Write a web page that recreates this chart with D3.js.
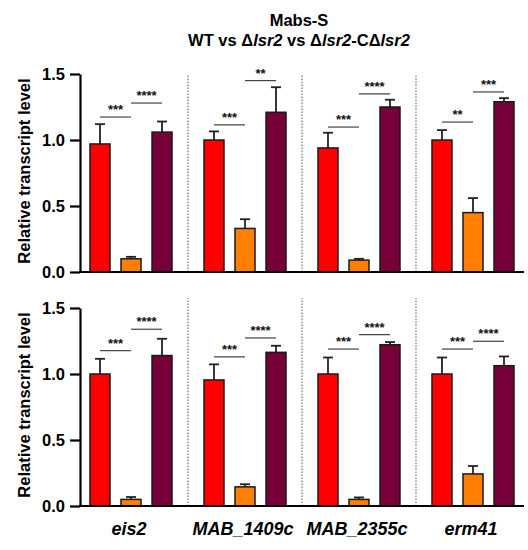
<!DOCTYPE html>
<html><head><meta charset="utf-8">
<script src="https://cdn.jsdelivr.net/npm/d3@7/dist/d3.min.js"></script>
<style>
html,body{margin:0;padding:0;background:#fff;}
text{font-family:"Liberation Sans",Arial,Helvetica,sans-serif;}
</style></head>
<body>
<svg id="chart" width="528" height="550"></svg>
<script>
// ---- data ----
const genes = ["eis2", "MAB_1409c", "MAB_2355c", "erm41"];
const strains = ["WT", "Δlsr2", "Δlsr2-CΔlsr2"];
const yTicks = [0, 0.5, 1.0, 1.5];

// top panel
const topWT = [0.97, 1.00, 0.94, 1.00];
const topWTErr = [0.15, 0.065, 0.115, 0.075];
const topDel = [0.10, 0.33, 0.09, 0.45];
const topDelErr = [0.015, 0.07, 0.01, 0.11];
const topComp = [1.06, 1.21, 1.25, 1.29];
const topCompErr = [0.08, 0.19, 0.055, 0.027];
const topSig1 = ["***", "***", "***", "**"];
const topSig2 = ["****", "**", "****", "***"];
const topSig1Y = [1.174, 1.114, 1.098, 1.136];
const topSig2Y = [1.28, 1.45, 1.35, 1.364];

// bottom panel
const botWT = [1.00, 0.955, 1.00, 1.00];
const botWTErr = [0.115, 0.118, 0.125, 0.125];
const botDel = [0.05, 0.145, 0.05, 0.243];
const botDelErr = [0.018, 0.02, 0.015, 0.06];
const botComp = [1.14, 1.164, 1.222, 1.063];
const botCompErr = [0.127, 0.05, 0.02, 0.07];
const botSig1 = ["***", "***", "***", "***"];
const botSig2 = ["****", "****", "****", "****"];
const botSig1Y = [1.177, 1.129, 1.189, 1.189];
const botSig2Y = [1.339, 1.273, 1.298, 1.248];

const colors = ["#FF0000", "#FF8000", "#770038"];

// ---- layout ----
const svg = d3.select("#chart");
const left = 80, right = 524;
const x = d3.scaleBand().domain(genes).range([left, right]).paddingInner(0.105).paddingOuter(0);
const xs = d3.scaleBand().domain(strains).range([0, x.bandwidth()]).paddingInner(0.355).paddingOuter(0.3226);

const panels = [
  {bottom: 272, top: 74, sepTop: 1.49, vals: [topWT, topDel, topComp], errs: [topWTErr, topDelErr, topCompErr],
   sig1: topSig1, sig2: topSig2, sig1Y: topSig1Y, sig2Y: topSig2Y},
  {bottom: 506, top: 308, sepTop: 1.575, vals: [botWT, botDel, botComp], errs: [botWTErr, botDelErr, botCompErr],
   sig1: botSig1, sig2: botSig2, sig1Y: botSig1Y, sig2Y: botSig2Y}
];

// title
svg.append("text").attr("x", 299).attr("y", 26).attr("text-anchor", "middle")
  .attr("font-size", 16.5).attr("font-weight", "bold").text("Mabs-S");
const t2 = svg.append("text").attr("x", 299).attr("y", 46).attr("text-anchor", "middle")
  .attr("font-size", 16.5).attr("font-weight", "bold");
[["WT vs Δ", false], ["lsr2", true], [" vs Δ", false], ["lsr2", true], ["-CΔ", false], ["lsr2", true]]
  .forEach(([s, it]) => t2.append("tspan").attr("font-style", it ? "italic" : "normal").text(s));

panels.forEach(p => {
  const y = d3.scaleLinear().domain([0, 1.5]).range([p.bottom, p.top]);
  const g = svg.append("g");

  // separators
  g.selectAll("line.sep").data(genes.slice(1)).enter().append("line")
    .attr("x1", d => x(d) - x.step() * x.paddingInner() / 2)
    .attr("x2", d => x(d) - x.step() * x.paddingInner() / 2)
    .attr("y1", y(0)).attr("y2", y(p.sepTop))
    .attr("stroke", "#555").attr("stroke-width", 1).attr("stroke-dasharray", "1.5,1.5");

  // bars + error bars
  strains.forEach((s, si) => {
    const vals = p.vals[si], errs = p.errs[si];
    const cx = gi => x(genes[gi]) + xs(s) + xs.bandwidth() / 2;
    genes.forEach((gname, gi) => {
      const top = y(vals[gi] + errs[gi]);
      g.append("line").attr("x1", cx(gi)).attr("x2", cx(gi))
        .attr("y1", y(vals[gi])).attr("y2", top).attr("stroke", "#222").attr("stroke-width", 1.8);
      g.append("line").attr("x1", cx(gi) - 5).attr("x2", cx(gi) + 5)
        .attr("y1", top).attr("y2", top).attr("stroke", "#222").attr("stroke-width", 1.8);
    });
    g.selectAll("rect.s" + si).data(vals).enter().append("rect")
      .attr("x", (d, i) => x(genes[i]) + xs(s))
      .attr("y", d => y(d))
      .attr("width", xs.bandwidth())
      .attr("height", d => y(0) - y(d))
      .attr("fill", colors[si]).attr("stroke", "#1a1a1a").attr("stroke-width", 1.5);
  });

  // significance
  const centre = (gi, si) => x(genes[gi]) + xs(strains[si]) + xs.bandwidth() / 2;
  [[p.sig1, p.sig1Y, 0], [p.sig2, p.sig2Y, 1]].forEach(([labels, ys, si]) => {
    genes.forEach((gname, gi) => {
      const x1 = centre(gi, si), x2 = centre(gi, si + 1), yy = y(ys[gi]);
      g.append("line").attr("x1", x1).attr("x2", x2).attr("y1", yy).attr("y2", yy)
        .attr("stroke", "#444").attr("stroke-width", 1.2);
      g.append("text").attr("x", (x1 + x2) / 2).attr("y", yy - 3)
        .attr("text-anchor", "middle").attr("font-size", 13).attr("font-weight", "bold")
        .attr("fill", "#111").text(labels[gi]);
    });
  });

  // y axis
  const ax = g.append("g").attr("transform", `translate(${left},0)`)
    .call(d3.axisLeft(y).tickValues(yTicks).tickFormat(d3.format(".1f")).tickSize(10).tickSizeOuter(0).tickPadding(5));
  ax.select(".domain").attr("stroke", "#000").attr("stroke-width", 2.2);
  ax.selectAll(".tick line").attr("stroke", "#000").attr("stroke-width", 2.2);
  ax.selectAll(".tick text").attr("font-size", 16.5).attr("font-weight", "bold").attr("fill", "#000")
    .attr("font-family", "Liberation Sans, Arial, sans-serif");

  // x axis line
  g.append("line").attr("x1", left - 1).attr("x2", right).attr("y1", y(0)).attr("y2", y(0))
    .attr("stroke", "#000").attr("stroke-width", 2.2);

  // y label
  g.append("text").attr("transform", `translate(30,${(p.top + p.bottom) / 2 - 2}) rotate(-90)`)
    .attr("text-anchor", "middle").attr("font-size", 16.5).attr("font-weight", "bold")
    .text("Relative transcript level");
});

// x labels
svg.selectAll("text.xl").data(genes).enter().append("text")
  .attr("x", d => x(d) + x.bandwidth() / 2 - 2)
  .attr("y", 535).attr("text-anchor", "middle")
  .attr("font-size", 18).attr("font-weight", "bold").attr("font-style", "italic")
  .text(d => d);
</script>
</body></html>
